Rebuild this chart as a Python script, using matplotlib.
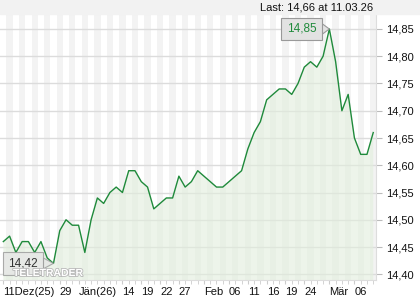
import matplotlib
matplotlib.use('Agg')
import matplotlib.pyplot as plt
import matplotlib.patheffects as pe
from matplotlib.patches import Rectangle

plt.rcParams['font.family'] = ['Liberation Sans', 'DejaVu Sans']

# daily closing prices, 11 Dec 2025 .. 11 Mar 2026
prices = [14.46, 14.47, 14.44, 14.46, 14.46, 14.44, 14.46, 14.43, 14.42, 14.48,
          14.50, 14.49, 14.49, 14.44, 14.50, 14.54, 14.53, 14.55, 14.56, 14.55,
          14.59, 14.59, 14.57, 14.56, 14.52, 14.53, 14.54, 14.54, 14.58, 14.56,
          14.57, 14.59, 14.58, 14.57, 14.56, 14.56, 14.57, 14.58, 14.59, 14.63,
          14.66, 14.68, 14.72, 14.73, 14.74, 14.74, 14.73, 14.75, 14.78, 14.79,
          14.78, 14.80, 14.85, 14.79, 14.70, 14.73, 14.65, 14.62, 14.62, 14.66]
tick_idx = [0, 9, 12, 19, 22, 25, 28, 32, 36, 39, 42, 45, 48, 52, 56]
tick_labels = ['11Dez(25)', '29', 'Jän(26)', '14', '19', '22', '27', 'Feb',
               '06', '11', '16', '19', '24', 'Mär', '06']
y_ticks = [14.40, 14.45, 14.50, 14.55, 14.60, 14.65, 14.70, 14.75, 14.80, 14.85]
last_text = 'Last: 14,66 at 11.03.26'

fig = plt.figure(figsize=(4.2, 3), dpi=100)
fig.patches.append(Rectangle((0, 286/300), 1, 14/300, transform=fig.transFigure,
                             color='#f2f2f2', zorder=0))
fig.text(373/420, 293/300, last_text, ha='right', va='center', fontsize=8, color='#111111')

ax = fig.add_axes([0, 20/300, 376/420, 266/300])
x = list(range(len(prices)))

# alternating day stripes
for i in x:
    if i % 2 == 1:
        ax.axvspan(i - 0.5, i + 0.5, color='#f3f3f3', lw=0, zorder=0)

for v in y_ticks:
    ax.axhline(v, color='#dcdcdc', lw=1, zorder=1)

ax.fill_between(x, prices, 14.0, color='#e2eedd', alpha=0.6, lw=0, zorder=2)
ax.plot(x, prices, color='#1f8a3b', lw=1.0, zorder=3)

ax.set_xlim(-0.53, 59.44)
ax.set_ylim(14.3895, 14.8775)

ax.yaxis.tick_right()
ax.set_yticks(y_ticks)
ax.set_yticklabels([f'{v:.2f}'.replace('.', ',') for v in y_ticks], fontsize=8, color='#111111')
ax.tick_params(axis='y', length=4, color='#bbbbbb', pad=3)

ax.set_xticks(x, minor=True)
ax.set_xticks(tick_idx)
ax.set_xticklabels(tick_labels, fontsize=8, color='#111111', ha='left')
ax.tick_params(axis='x', which='both', length=3, color='#cccccc', pad=2)

for s in ['top', 'left']:
    ax.spines[s].set_visible(False)
for s in ['right', 'bottom']:
    ax.spines[s].set_color('#dddddd')

# max / min markers
imax = prices.index(max(prices))
imin = prices.index(min(prices))
ax.annotate(f'{prices[imax]:.2f}'.replace('.', ','), xy=(imax, prices[imax]),
            xytext=(-20, 0), textcoords='offset points', ha='center', va='center',
            fontsize=8.5, color='#1f8a3b', zorder=6,
            bbox=dict(boxstyle='square,pad=0.45', fc='#e2e2e2', ec='#999999', lw=0.8),
            arrowprops=dict(arrowstyle='wedge,tail_width=0.9', fc='#e2e2e2', ec='#999999',
                            lw=0.8, shrinkA=0, shrinkB=0))
ax.annotate(f'{prices[imin]:.2f}'.replace('.', ','), xy=(imin, prices[imin]),
            xytext=(-22, 0), textcoords='offset points', ha='center', va='center',
            fontsize=8.5, color='#333333', zorder=6,
            bbox=dict(boxstyle='square,pad=0.45', fc='#e6e6e6', ec='#999999', lw=0.8, alpha=0.8),
            arrowprops=dict(arrowstyle='wedge,tail_width=0.9', fc='#e6e6e6', ec='#999999',
                            lw=0.8, alpha=0.8, shrinkA=0, shrinkB=0))

ax.text(13/376, 4/266, 'TELETRADER', transform=ax.transAxes, fontsize=7.5,
        fontweight='bold', color='white', zorder=7,
        path_effects=[pe.withStroke(linewidth=1.2, foreground='#b8b8b8')])

fig.savefig('out.png', dpi=100)
